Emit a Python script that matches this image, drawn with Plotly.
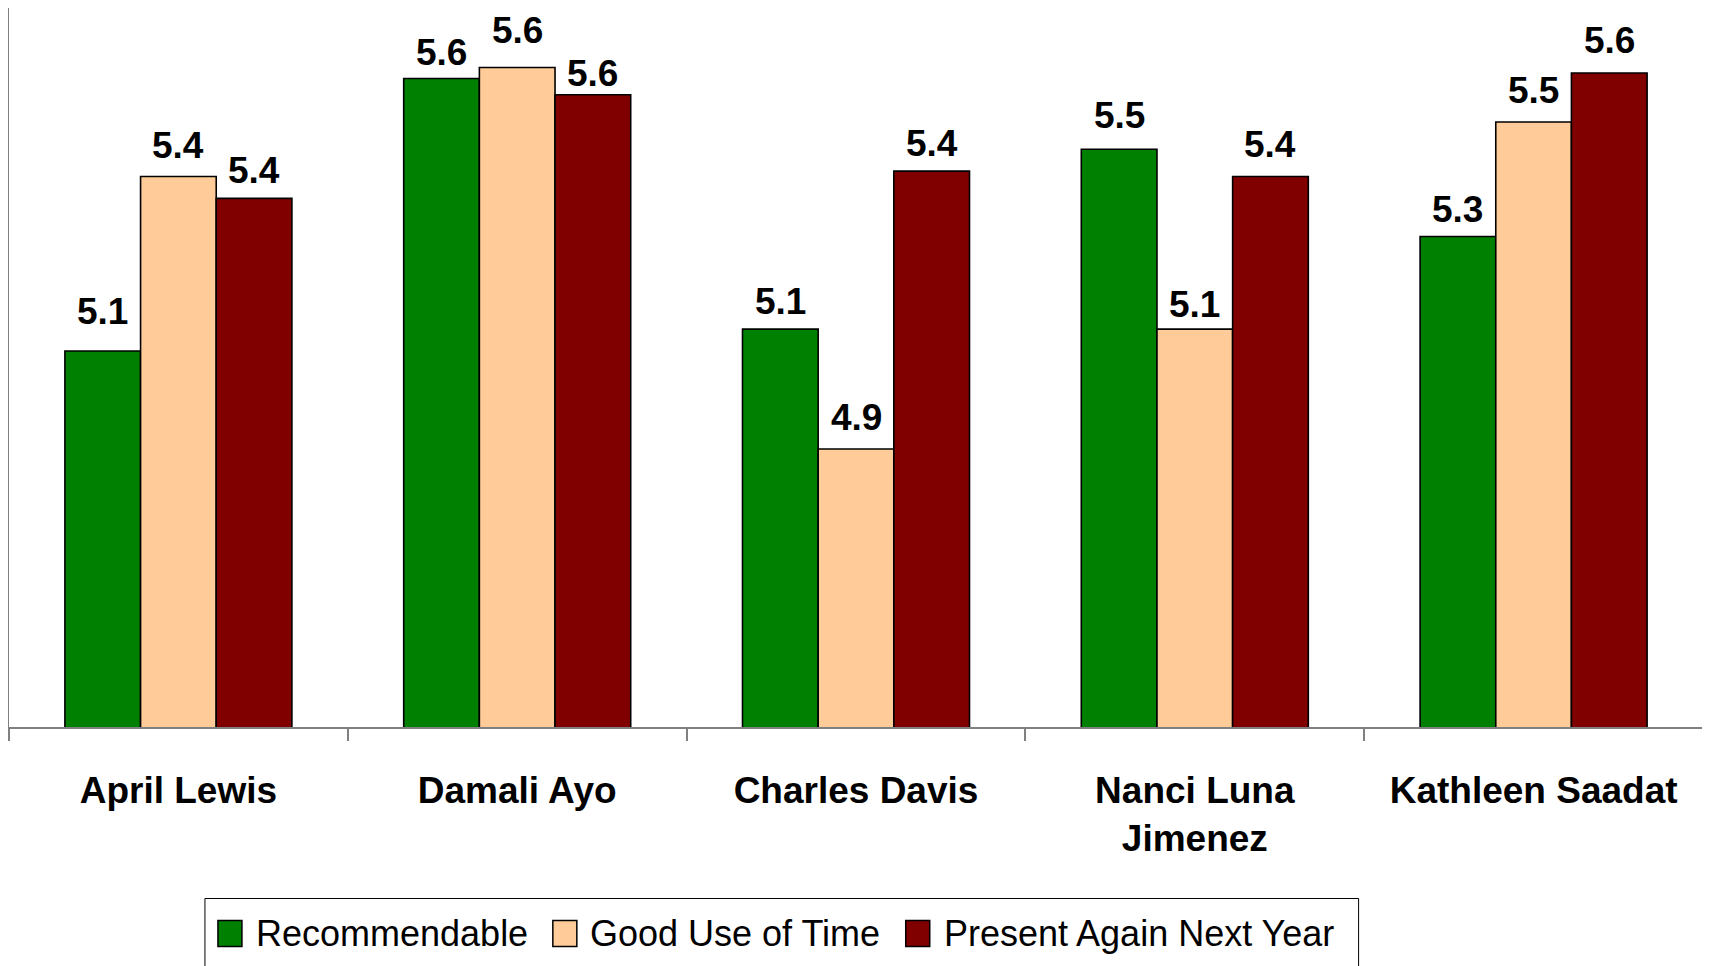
import plotly.graph_objects as go

categories = ["April Lewis", "Damali Ayo", "Charles Davis", "Nanci Luna<br>Jimenez", "Kathleen Saadat"]
series_names = ["Recommendable", "Good Use of Time", "Present Again Next Year"]
recommendable = [5.09, 5.59, 5.13, 5.46, 5.30]
good_use_of_time = [5.41, 5.61, 4.91, 5.13, 5.51]
present_again = [5.37, 5.56, 5.42, 5.41, 5.60]
colors = ["#008000", "#FFCC99", "#800000"]

# style: vertical offsets (px) of the value labels above each bar, per series
label_shift = [
    [17, 3, 5, 11, 5],
    [9, 15, 9, 2, 9],
    [5, -1, 5, 10, 10],
]

FONT = "Liberation Sans, Arial, sans-serif"

# figure geometry (page has 8px body margin)
W, H = 1702, 958
ML, MR, MT = 1, 6.5, 0
PLOT_BOTTOM = 719.4
MB = H - PLOT_BOTTOM
PW = W - ML - MR
PH = PLOT_BOTTOM - MT
BARGAP = 0.33
bar_px = PW / len(categories) * (1 - BARGAP) / 3


def px(fx):
    return (fx - ML) / PW


def py(fy):
    return (PLOT_BOTTOM - fy) / PH


fig = go.Figure()
series = [recommendable, good_use_of_time, present_again]
annotations = []
for i, (name, vals, col) in enumerate(zip(series_names, series, colors)):
    fig.add_trace(go.Bar(
        x=categories, y=vals, name=name,
        marker=dict(color=col, line=dict(color="black", width=1.6)),
        showlegend=False,
    ))
    for j, (cat, v) in enumerate(zip(categories, vals)):
        annotations.append(dict(
            x=cat, y=v, xref="x", yref="y", text=f"<b>{v:.1f}</b>",
            showarrow=False, xanchor="center", yanchor="bottom",
            xshift=(i - 1) * bar_px, yshift=label_shift[i][j],
            font=dict(family=FONT, size=37, color="black"),
        ))

# legend (box, swatches, labels) in figure pixels
shapes = [dict(type="rect", xref="paper", yref="paper",
               x0=px(197), x1=px(1351), y0=py(891), y1=py(990),
               line=dict(color="black", width=1), fillcolor="white", layer="above")]
swatch_x = [210, 545, 898]
text_x = [246, 580, 934]
for sx, tx, col, name in zip(swatch_x, text_x, colors, series_names):
    shapes.append(dict(type="rect", xref="paper", yref="paper",
                       x0=px(sx), x1=px(sx + 24), y0=py(939), y1=py(913),
                       line=dict(color="black", width=1.5), fillcolor=col, layer="above"))
    annotations.append(dict(
        x=px(tx), y=py(926), xref="paper", yref="paper", text=name,
        showarrow=False, xanchor="left", yanchor="middle",
        font=dict(family=FONT, size=36, color="black"),
    ))

fig.update_layout(
    width=W, height=H,
    margin=dict(l=ML, r=MR, t=MT, b=MB),
    paper_bgcolor="white", plot_bgcolor="white",
    barmode="group", bargap=BARGAP, bargroupgap=0,
    font=dict(family=FONT, color="black"),
    showlegend=False,
    shapes=shapes, annotations=annotations,
    xaxis=dict(
        showline=True, linecolor="#808080", linewidth=1.5,
        ticks="outside", tickson="boundaries", ticklen=12, tickcolor="#808080", tickwidth=1.5,
        tickfont=dict(family=FONT, size=37, color="black"),
        tickprefix="<b>", ticksuffix="</b>",
        ticklabelstandoff=30,
        showgrid=False, zeroline=False, automargin=False,
    ),
    yaxis=dict(
        range=[4.4, 4.4 + PH / 545.3], showline=True, linecolor="#808080", linewidth=1.5,
        showticklabels=False, ticks="", showgrid=False, zeroline=False, automargin=False,
    ),
)

fig.write_html("out.html")
